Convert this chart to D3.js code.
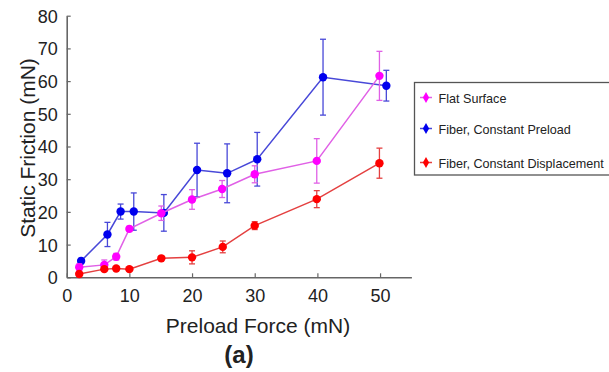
<!DOCTYPE html>
<html>
<head>
<meta charset="utf-8">
<script src="https://cdn.jsdelivr.net/npm/d3@7"></script>
<style>
  body { margin: 0; background: #fff; }
  text { font-family: "Liberation Sans", Arial, sans-serif; }
</style>
</head>
<body>
<div id="chart"></div>
<script>
// data
var flatX = [2.0, 6.0, 7.9, 10.0, 15.1, 20.0, 24.8, 30.0, 39.9, 49.9];
var flatY = [3.1, 3.8, 6.3, 14.8, 19.6, 23.8, 27.0, 31.5, 35.6, 61.6];
var flatErr = [1.0, 1.5, 1.0, 0.8, 2.2, 3.0, 2.6, 2.6, 6.8, 7.5];

var preloadX = [2.3, 6.5, 8.6, 10.7, 15.5, 20.8, 25.6, 30.4, 40.9, 51.0];
var preloadY = [5.0, 13.1, 20.1, 20.1, 19.7, 32.8, 31.8, 36.1, 61.2, 58.6];
var preloadErr = [0.8, 3.7, 2.3, 5.7, 5.6, 8.2, 9.0, 8.2, 11.6, 4.7];

var dispX = [2.0, 6.0, 7.9, 10.0, 15.1, 20.0, 24.9, 30.0, 39.9, 49.9];
var dispY = [1.0, 2.5, 2.7, 2.5, 5.8, 6.1, 9.3, 15.8, 23.9, 34.9];
var dispErr = [0.4, 0.5, 0.5, 0.5, 0.5, 2.0, 1.8, 1.2, 2.6, 4.6];

var seriesNames = ["Flat Surface", "Fiber, Constant Preload", "Fiber, Constant Displacement"];
var xTicks = [0, 10, 20, 30, 40, 50];
var yTicks = [0, 10, 20, 30, 40, 50, 60, 70, 80];

function zip(xs, ys, es) {
  return xs.map(function(x, i) { return { x: x, y: ys[i], e: es[i] }; });
}

var series = [
  { name: seriesNames[1], pts: zip(preloadX, preloadY, preloadErr), line: "#4848d8", dot: "#0000ee" },
  { name: seriesNames[0], pts: zip(flatX, flatY, flatErr), line: "#e060e6", dot: "#ff00ff" },
  { name: seriesNames[2], pts: zip(dispX, dispY, dispErr), line: "#e44040", dot: "#ff0000" }
];

var W = 609, H = 372;
var svg = d3.select("#chart").append("svg")
  .attr("width", W).attr("height", H);

var x = d3.scaleLinear().domain([0, 55]).range([66.7, 411.4]);
var y = d3.scaleLinear().domain([0, 80]).range([277.3, 15.7]);

var axisColor = "#666";

// axes, ticks pointing inward
var xAxis = d3.axisBottom(x).tickValues(xTicks).tickSizeInner(-4).tickSizeOuter(0).tickPadding(9);
var yAxis = d3.axisLeft(y).tickValues(yTicks).tickSizeInner(-4).tickSizeOuter(0).tickPadding(9);

var gx = svg.append("g").attr("transform", "translate(0," + y(0) + ")").call(xAxis);
var gy = svg.append("g").attr("transform", "translate(" + x(0) + ",0)").call(yAxis);

[gx, gy].forEach(function(g) {
  g.select(".domain").attr("stroke", axisColor).attr("stroke-width", 1.6);
  g.selectAll(".tick line").attr("stroke", axisColor).attr("stroke-width", 1.2);
  g.selectAll(".tick text").attr("fill", "#222").style("font-size", "18px")
    .style("font-family", "'Liberation Sans', Arial, sans-serif");
});
gx.selectAll(".tick text").attr("dy", "0.85em");
gy.selectAll(".tick text").attr("dy", "0.36em");

// series
var line = d3.line().x(function(d) { return x(d.x); }).y(function(d) { return y(d.y); });
var cap = 3;

series.forEach(function(s) {
  var g = svg.append("g");
  g.append("path").datum(s.pts).attr("d", line)
    .attr("fill", "none").attr("stroke", s.line).attr("stroke-width", 1.5);

  var eb = g.selectAll(".eb").data(s.pts).enter().append("g");
  eb.append("line")
    .attr("x1", function(d) { return x(d.x); }).attr("x2", function(d) { return x(d.x); })
    .attr("y1", function(d) { return y(d.y - d.e); }).attr("y2", function(d) { return y(d.y + d.e); });
  eb.append("line")
    .attr("x1", function(d) { return x(d.x) - cap; }).attr("x2", function(d) { return x(d.x) + cap; })
    .attr("y1", function(d) { return y(d.y + d.e); }).attr("y2", function(d) { return y(d.y + d.e); });
  eb.append("line")
    .attr("x1", function(d) { return x(d.x) - cap; }).attr("x2", function(d) { return x(d.x) + cap; })
    .attr("y1", function(d) { return y(d.y - d.e); }).attr("y2", function(d) { return y(d.y - d.e); });
  eb.selectAll("line").attr("stroke", s.line).attr("stroke-width", 1.3);

  g.selectAll("circle").data(s.pts).enter().append("circle")
    .attr("cx", function(d) { return x(d.x); })
    .attr("cy", function(d) { return y(d.y); })
    .attr("r", 4.2)
    .attr("fill", s.dot);
});

// labels
svg.append("text")
  .attr("transform", "translate(35,148) rotate(-90)")
  .attr("text-anchor", "middle")
  .style("font-size", "21px").attr("fill", "#222")
  .text("Static Friction (mN)");

svg.append("text")
  .attr("x", 258).attr("y", 333)
  .attr("text-anchor", "middle")
  .style("font-size", "21px").attr("fill", "#222")
  .text("Preload Force (mN)");

svg.append("text")
  .attr("x", 239).attr("y", 363)
  .attr("text-anchor", "middle")
  .style("font-size", "24px").style("font-weight", "bold").attr("fill", "#222")
  .text("(a)");

// legend
var legend = svg.append("g");
legend.append("rect")
  .attr("x", 414.5).attr("y", 82.5).attr("width", 210).attr("height", 92.5)
  .attr("fill", "#fff").attr("stroke", "#555").attr("stroke-width", 1.3);

var legendItems = [series[1], series[0], series[2]];
var legendY = [97.5, 128.5, 162.5];
legendItems.forEach(function(s, i) {
  var ly = legendY[i];
  legend.append("line")
    .attr("x1", 420).attr("x2", 432).attr("y1", ly).attr("y2", ly)
    .attr("stroke", s.line).attr("stroke-width", 1.5);
  legend.append("path")
    .attr("d", d3.symbol().type(d3.symbolDiamond).size(34)())
    .attr("transform", "translate(426," + ly + ")")
    .attr("fill", s.dot);
  legend.append("text")
    .attr("x", 438.5).attr("y", ly + 5)
    .style("font-size", "12.6px").attr("fill", "#222")
    .text(s.name);
});
</script>
</body>
</html>
